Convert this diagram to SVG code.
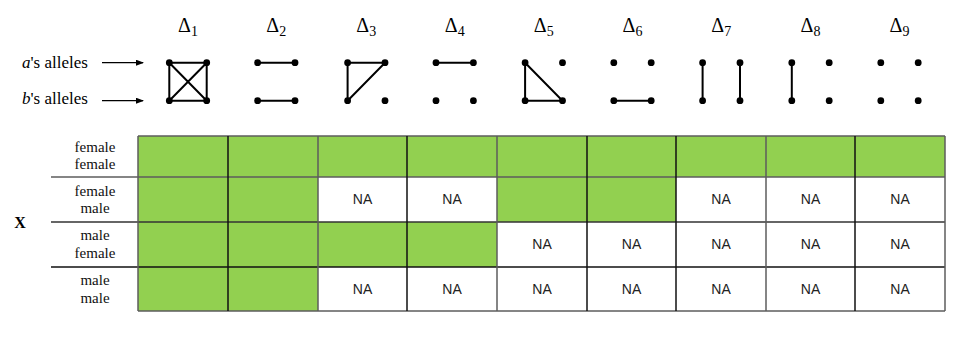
<svg xmlns="http://www.w3.org/2000/svg" width="968" height="340" viewBox="0 0 968 340">
<style>
.lbl{font-family:"Liberation Serif","Times New Roman","DejaVu Serif",serif;fill:#000}
.dl{font-family:"Liberation Serif","Times New Roman","DejaVu Serif",serif;font-size:20px;text-anchor:middle;fill:#000}
.sub{font-size:14px}
.row{font-family:"Liberation Serif","Times New Roman","DejaVu Serif",serif;font-size:15px;text-anchor:middle;fill:#111}
.na{font-family:"Liberation Sans",Arial,sans-serif;font-size:14px;text-anchor:middle;fill:#222}
.g{fill:#92D050}
.e{stroke:#000;stroke-width:2;fill:none}
.d{fill:#000}
.bk{stroke:#111;stroke-width:1.5}
.gr{stroke:#5c5c5c;stroke-width:1.5}
</style>
<defs>
<marker id="ah" markerWidth="8" markerHeight="6" refX="7" refY="3" orient="auto" markerUnits="userSpaceOnUse">
<path d="M0,0 L8,3 L0,6 Z" fill="#000"/>
</marker>
<g id="dots4">
<circle class="d" cx="-18.7" cy="0" r="3.4"/>
<circle class="d" cx="18.7" cy="0" r="3.4"/>
<circle class="d" cx="-18.7" cy="38" r="3.4"/>
<circle class="d" cx="18.7" cy="38" r="3.4"/>
</g>
</defs>
<rect width="968" height="340" fill="#fff"/>

<g id="allele-labels">
<text class="lbl" x="22" y="68" font-size="17"><tspan font-style="italic">a</tspan>'s alleles</text>
<text class="lbl" x="22" y="104" font-size="17"><tspan font-style="italic">b</tspan>'s alleles</text>
</g>
<g id="connectors">
<line x1="102" y1="62.7" x2="143" y2="62.7" stroke="#000" stroke-width="1.2" marker-end="url(#ah)"/>
<line x1="102" y1="100.7" x2="143" y2="100.7" stroke="#000" stroke-width="1.2" marker-end="url(#ah)"/>
</g>

<g id="delta1" transform="translate(188,62.7)">
<text class="dl" x="0" y="-30.7">Δ<tspan class="sub" dy="4">1</tspan></text>
<path class="e" d="M-18.7,0 H18.7 V38 H-18.7 Z M-18.7,0 L18.7,38 M18.7,0 L-18.7,38"/>
<use href="#dots4"/>
</g>
<g id="delta2" transform="translate(276.3,62.7)">
<text class="dl" x="0" y="-30.7">Δ<tspan class="sub" dy="4">2</tspan></text>
<path class="e" d="M-18.7,0 H18.7 M-18.7,38 H18.7"/>
<use href="#dots4"/>
</g>
<g id="delta3" transform="translate(366.3,62.7)">
<text class="dl" x="0" y="-30.7">Δ<tspan class="sub" dy="4">3</tspan></text>
<path class="e" d="M-18.7,38 V0 H18.7 L-18.7,38"/>
<use href="#dots4"/>
</g>
<g id="delta4" transform="translate(454.7,62.7)">
<text class="dl" x="0" y="-30.7">Δ<tspan class="sub" dy="4">4</tspan></text>
<path class="e" d="M-18.7,0 H18.7"/>
<use href="#dots4"/>
</g>
<g id="delta5" transform="translate(543.8,62.7)">
<text class="dl" x="0" y="-30.7">Δ<tspan class="sub" dy="4">5</tspan></text>
<path class="e" d="M-18.7,0 V38 H18.7 L-18.7,0"/>
<use href="#dots4"/>
</g>
<g id="delta6" transform="translate(632.5,62.7)">
<text class="dl" x="0" y="-30.7">Δ<tspan class="sub" dy="4">6</tspan></text>
<path class="e" d="M-18.7,38 H18.7"/>
<use href="#dots4"/>
</g>
<g id="delta7" transform="translate(721.3,62.7)">
<text class="dl" x="0" y="-30.7">Δ<tspan class="sub" dy="4">7</tspan></text>
<path class="e" d="M-18.7,0 V38 M18.7,0 V38"/>
<use href="#dots4"/>
</g>
<g id="delta8" transform="translate(810.5,62.7)">
<text class="dl" x="0" y="-30.7">Δ<tspan class="sub" dy="4">8</tspan></text>
<path class="e" d="M-18.7,0 V38"/>
<use href="#dots4"/>
</g>
<g id="delta9" transform="translate(899.5,62.7)">
<text class="dl" x="0" y="-30.7">Δ<tspan class="sub" dy="4">9</tspan></text>
<use href="#dots4"/>
</g>

<g id="x-label">
<text class="lbl" x="20" y="228" font-size="16" font-weight="bold" text-anchor="middle">X</text>
</g>

<g id="row-labels">
<text class="row" x="95" y="152">female</text>
<text class="row" x="95" y="168.5">female</text>
<text class="row" x="95" y="195.5">female</text>
<text class="row" x="95" y="213">male</text>
<text class="row" x="95" y="240">male</text>
<text class="row" x="95" y="258">female</text>
<text class="row" x="95" y="285">male</text>
<text class="row" x="95" y="303">male</text>
</g>

<g id="table">
<rect class="g" x="138" y="136" width="807" height="41"/>
<rect class="g" x="138" y="177" width="180" height="45"/>
<rect class="g" x="497" y="177" width="179" height="45"/>
<rect class="g" x="138" y="222" width="359" height="45"/>
<rect class="g" x="138" y="267" width="180" height="44"/>

<text class="na" x="362.5" y="204">NA</text>
<text class="na" x="452" y="204">NA</text>
<text class="na" x="721" y="204">NA</text>
<text class="na" x="810.5" y="204">NA</text>
<text class="na" x="900" y="204">NA</text>

<text class="na" x="542" y="249">NA</text>
<text class="na" x="631.5" y="249">NA</text>
<text class="na" x="721" y="249">NA</text>
<text class="na" x="810.5" y="249">NA</text>
<text class="na" x="900" y="249">NA</text>

<text class="na" x="362.5" y="293.5">NA</text>
<text class="na" x="452" y="293.5">NA</text>
<text class="na" x="542" y="293.5">NA</text>
<text class="na" x="631.5" y="293.5">NA</text>
<text class="na" x="721" y="293.5">NA</text>
<text class="na" x="810.5" y="293.5">NA</text>
<text class="na" x="900" y="293.5">NA</text>

<line class="gr" x1="138" y1="136" x2="945" y2="136"/>
<line class="gr" x1="51" y1="177" x2="945" y2="177"/>
<line class="bk" x1="51" y1="222" x2="945" y2="222" style="stroke:#333"/>
<line class="bk" x1="51" y1="267" x2="945" y2="267"/>
<line class="gr" x1="138" y1="311" x2="945" y2="311"/>

<line class="gr" x1="138" y1="136" x2="138" y2="311"/>
<line class="bk" x1="228" y1="136" x2="228" y2="311"/>
<line class="gr" x1="318" y1="136" x2="318" y2="311"/>
<line class="bk" x1="407" y1="136" x2="407" y2="311"/>
<line class="gr" x1="497" y1="136" x2="497" y2="311"/>
<line class="bk" x1="587" y1="136" x2="587" y2="311"/>
<line class="bk" x1="676" y1="136" x2="676" y2="311"/>
<line class="gr" x1="766" y1="136" x2="766" y2="311"/>
<line class="bk" x1="855" y1="136" x2="855" y2="311"/>
<line class="gr" x1="945" y1="136" x2="945" y2="311"/>
</g>
</svg>
